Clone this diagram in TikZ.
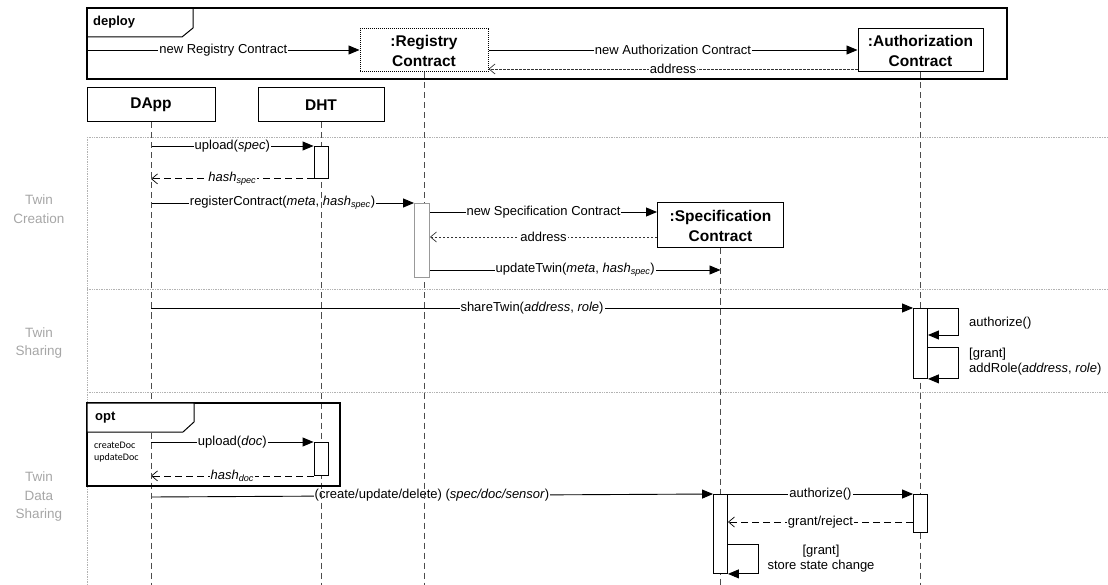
\documentclass[tikz,border=0pt]{standalone}
\usepackage{fontspec}
\setmainfont{Liberation Sans}
\newfontfamily\notefont{Carlito}
\usetikzlibrary{arrows.meta}
\pgfdeclarelayer{msgs}
\pgfdeclarelayer{lifes}
\pgfsetlayers{msgs,lifes,main}

\begin{document}
\begin{tikzpicture}[x=1pt,y=-1pt,
  every node/.style={font=\fontsize{13}{15}\selectfont, inner sep=0pt},
  obj/.style={draw, line width=1pt, fill=white, align=center, inner sep=0pt,
    font=\fontsize{15.5}{20}\selectfont\bfseries},
  life/.style={draw=black!70, dash pattern=on 6pt off 4pt, line width=0.9pt},
  act/.style={draw, fill=white, line width=0.9pt, inner sep=0pt, minimum width=14pt},
  msg/.style={line width=0.9pt, -{Triangle[length=11pt,width=9pt]}},
  ret/.style={line width=0.8pt, dash pattern=on 7pt off 4pt,
    -{Straight Barb[length=6pt,width=10pt,line width=0.7pt]}},
  fineret/.style={ret, draw=black!80, dash pattern=on 2.5pt off 1.5pt},
  lbl/.style={fill=white, inner xsep=1pt, inner ysep=1.5pt},
  sep/.style={draw=black!30, densely dotted, line width=0.7pt},
  section/.style={text=black!35, align=center, font=\fontsize{13.5}{18.5}\selectfont},
  frame/.style={draw, line width=1.6pt},
  tabline/.style={draw, line width=1pt},
  kw/.style={font=\fontsize{13}{15}\selectfont\bfseries},
  note/.style={align=left, font=\fontsize{13}{15}\selectfont},
]
\useasboundingbox (0,0) rectangle (1108,585);
\coordinate (bot) at (0,585);

% message levels
\coordinate (y50) at (0,50);
\coordinate (y69) at (0,69);
\coordinate (y212) at (0,212);
\coordinate (y237) at (0,237);
\coordinate (y270) at (0,270);
\coordinate (y335) at (0,335);
\coordinate (y347) at (0,347);
\coordinate (y497) at (0,497);
\coordinate (y522) at (0,522);
\coordinate (y544) at (0,544);

% phase separators and phase names
\begin{pgfonlayer}{msgs}
\draw[sep] (87,137) -- (1108,137);
\draw[sep] (87,289) -- (1108,289);
\draw[sep] (87,392) -- (1108,392);
\draw[sep] (87,137) -- (87,585);
\end{pgfonlayer}
\node[section] (phase1) at (39,209) {Twin\\Creation};
\node[section] (phase2) at (39,343) {Twin\\Sharing};
\node[section] (phase3) at (39,497) {Twin\\Data\\Sharing};

% deployment fragment
\draw[frame] (87,8) rectangle (1007,79);
\draw[tabline] (87,37) -- (182,37) -- (193,28) -- (193,8);
\node[kw, anchor=west] (deploylbl) at (93,22) {deploy};
\coordinate (d0) at (87,50);

% participants
\node[obj, densely dotted, minimum width=128pt, minimum height=43pt] (reg) at (424,50.5) {:Registry\\Contract};
\node[obj, minimum width=125pt, minimum height=43pt] (auth) at (920.5,50.5) {:Authorization\\Contract};
\node[obj, minimum width=128pt, minimum height=34pt] (dapp) at (151,105) {DApp};
\node[obj, minimum width=126pt, minimum height=34pt] (dht) at (321,105) {DHT};
\node[obj, minimum width=126pt, minimum height=45pt] (spec) at (720.5,225.5) {:Specification\\Contract};

% activations
\node[act, minimum height=32pt, anchor=north] (dht1) at (321,146) {};
\node[act, draw=black!40, minimum width=15pt, minimum height=74pt, anchor=north] (reg1) at (422,203) {};
\node[act, minimum height=70pt, anchor=north] (auth1) at (920.5,308) {};
\node[act, minimum height=33pt, anchor=north] (dht2) at (321,442) {};
\node[act, minimum height=79pt, anchor=north] (spec1) at (720.5,494) {};
\node[act, minimum height=38pt, anchor=north] (auth2) at (920.5,494) {};

% lifelines
\begin{pgfonlayer}{lifes}
\foreach \p in {dapp,dht,reg,auth,spec}
  \draw[life] (\p.south) -- (\p.south |- bot);
\end{pgfonlayer}

% optional fragment
\draw[line width=1.3pt] (87,403) rectangle (340,486);
\draw[tabline, fill=white] (87,403) -- (194,403) -- (194,422) -- (183,432) -- (87,432) -- cycle;
\node[kw, anchor=west] (optlbl) at (95,418) {opt};
\node[anchor=west, align=left, font=\notefont\fontsize{10}{12.5}\selectfont] (guard) at (94,452) {createDoc\\updateDoc};

\begin{pgfonlayer}{msgs}
% deploy
\draw[msg] (d0) -- (reg.west |- d0) node[lbl, midway] (m1) {new Registry Contract};
\draw[msg] (reg.east |- y50) -- (auth.west |- y50) node[lbl, midway] (m2) {new Authorization Contract};
\draw[fineret] (auth.west |- y69) -- (reg.east |- y69) node[lbl, midway] (m3) {address};

% twin creation
\draw[msg] (dapp |- dht1.north) -- (dht1.north west) node[lbl, midway] (m4) {upload(\textit{spec})};
\draw[ret] (dht1.south west) -- (dapp |- dht1.south) node[lbl, midway] (m5) {\textit{hash}\textsubscript{\textit{spec}}};
\draw[msg] (dapp |- reg1.north) -- (reg1.north west) node[lbl, midway] (m6) {registerContract(\textit{meta}, \textit{hash}\textsubscript{\textit{spec}})};
\draw[msg] (reg1.east |- y212) -- (spec.west |- y212) node[lbl, midway] (m7) {new Specification Contract};
\draw[fineret] (spec.west |- y237) -- (reg1.east |- y237) node[lbl, midway] (m8) {address};
\draw[msg] (reg1.east |- y270) -- (spec |- y270) node[lbl, midway] (m9) {updateTwin(\textit{meta}, \textit{hash}\textsubscript{\textit{spec}})};

% twin sharing
\draw[msg] (dapp |- auth1.north) -- (auth1.north west) node[lbl, midway] (m10) {shareTwin(\textit{address}, \textit{role})};
\draw[msg] (auth1.north east) -- ++(30,0) |- (auth1.east |- y335);
\draw[msg] (auth1.east |- y347) -- ++(30,0) |- (auth1.south east);

% twin data sharing
\draw[msg] (dapp |- dht2.north) -- (dht2.north west) node[lbl, midway] (m11) {upload(\textit{doc})};
\draw[ret] (dht2.south west) -- (dapp |- dht2.south) node[lbl, midway] (m12) {\textit{hash}\textsubscript{\textit{doc}}};
\draw[msg] (dapp |- y497) -- (spec1.north west) node[lbl, midway] (m13) {(create/update/delete) (\textit{spec/doc/sensor})};
\draw[msg] (spec1.north east) -- (auth2.north west) node[lbl, midway] (m14) {authorize()};
\draw[ret] (auth2.west |- y522) -- (spec1.east |- y522) node[lbl, midway] (m15) {grant/reject};
\draw[msg] (spec1.east |- y544) -- ++(30,0) |- (spec1.south east);
\end{pgfonlayer}

\node[note, anchor=west] (n1) at (969,323) {authorize()};
\node[note, anchor=west] (n2) at (969,362) {[grant]\\addRole(\textit{address}, \textit{role})};
\node[note, align=center] (n3) at (821,559) {[grant]\\store state change};
\end{tikzpicture}
\end{document}
